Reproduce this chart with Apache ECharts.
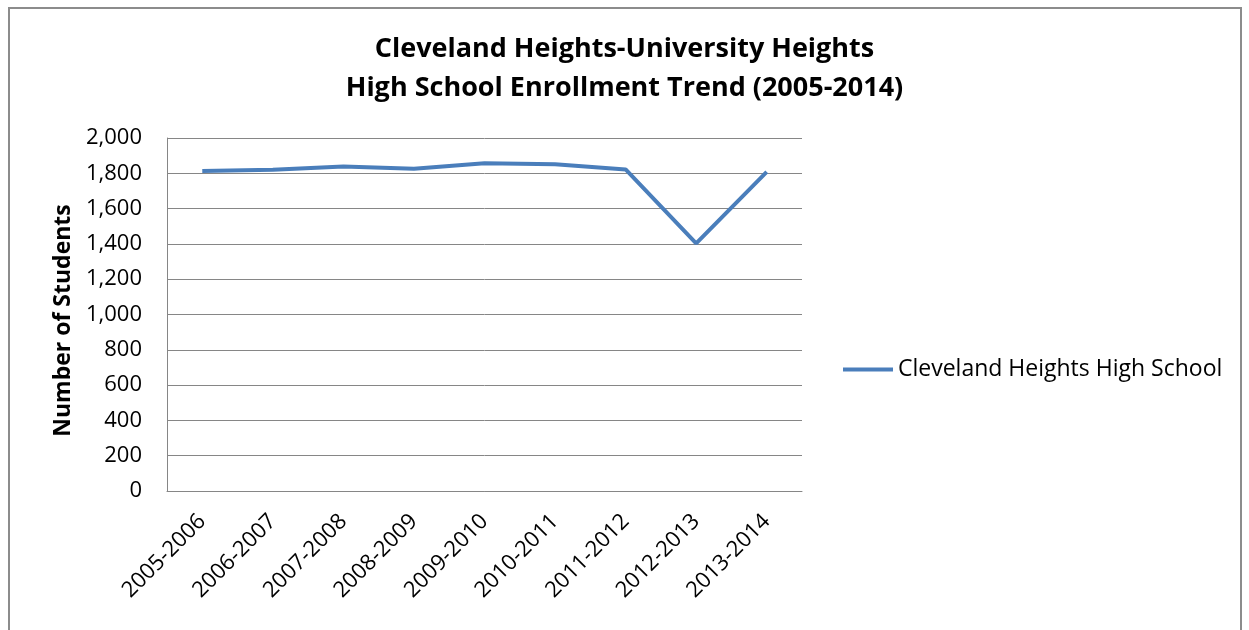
<!DOCTYPE html>
<html>
<head>
<meta charset="utf-8">
<script src="https://cdn.jsdelivr.net/npm/echarts@6/dist/echarts.min.js"></script>
<style>
html,body{margin:0;padding:0;background:#fff;}
#frame{position:absolute;left:8px;top:7px;width:1234px;height:640px;border:2px solid #8c8c8c;box-sizing:border-box;}
#chart{position:absolute;left:0;top:0;width:1249px;height:630px;}
</style>
</head>
<body>
<div id="frame"></div>
<div id="chart"></div>
<script>
const categories = ["2005-2006","2006-2007","2007-2008","2008-2009","2009-2010","2010-2011","2011-2012","2012-2013","2013-2014"];
const enrollment = [1813, 1820, 1838, 1826, 1857, 1851, 1822, 1403, 1808];
const seriesName = "Cleveland Heights High School";
const titleLines = ["Cleveland Heights-University Heights", "High School Enrollment Trend (2005-2014)"];
const yAxisName = "Number of Students";

const FONT = "Open Sans";
const chart = echarts.init(document.getElementById('chart'), null, {renderer:'canvas'});
chart.setOption({
  animation:false,
  backgroundColor:'transparent',
  title:{
    text: titleLines.join('\n'),
    left:'center', top:25,
    textStyle:{fontFamily:FONT, fontWeight:'bold', fontSize:27, color:'#000', lineHeight:39}
  },
  legend:{
    left:838, top:353,
    itemWidth:50, itemHeight:4, itemGap:7,
    icon:'rect',
    textStyle:{fontFamily:FONT, fontSize:23, color:'#000'},
    data:[seriesName]
  },
  grid:{left:167, right:447, top:138, bottom:139, containLabel:false},
  xAxis:{
    type:'category', data:categories, boundaryGap:true,
    axisLine:{lineStyle:{color:'#868686', width:1}},
    axisTick:{show:false},
    axisLabel:{rotate:45, fontFamily:FONT, fontSize:22, color:'#000', margin:27, interval:0}
  },
  yAxis:{
    type:'value', min:0, max:2000, interval:200,
    name:yAxisName, nameLocation:'middle', nameGap:90, nameRotate:90,
    nameTextStyle:{fontFamily:FONT, fontWeight:'bold', fontSize:23, color:'#000', padding:[0,12,0,0]},
    axisLine:{show:true, lineStyle:{color:'#868686', width:1}},
    axisTick:{show:false},
    splitLine:{lineStyle:{color:'#868686', width:1}},
    axisLabel:{fontFamily:FONT, fontSize:22, color:'#000', margin:25,
      formatter:v=>v.toLocaleString('en-US')}
  },
  series:[{
    name:seriesName, type:'line', data:enrollment,
    symbol:'none', smooth:false,
    lineStyle:{color:'#4a7ebb', width:4},
    itemStyle:{color:'#4a7ebb'}
  }]
});
</script>
</body>
</html>
